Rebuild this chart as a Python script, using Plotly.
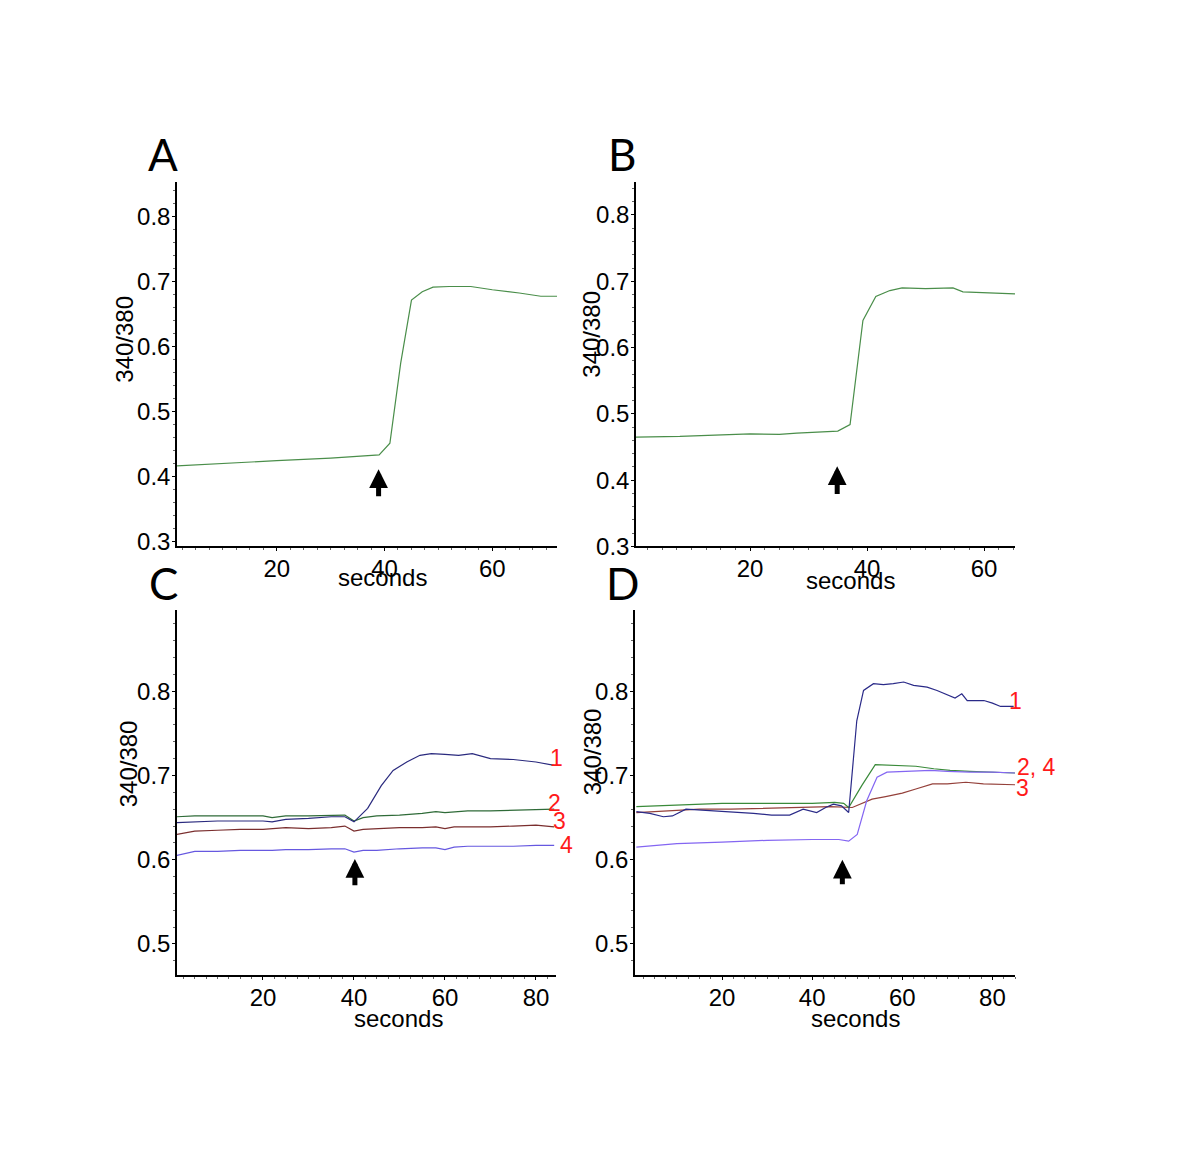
import plotly.graph_objects as go

W, H = 1200, 1150
# the page capture comes out about 1% shorter vertically than the figure;
# pixel targets below are measured on the reference, so stretch them a bit
K = 1.0105

# ---- data ----
t_a = [1.5, 10, 20, 30, 39, 41, 43, 45, 47, 49, 52, 56, 60, 65, 69, 72]
ratio_a = [0.417, 0.421, 0.425, 0.429, 0.434, 0.452, 0.575, 0.672, 0.685, 0.692,
           0.693, 0.693, 0.688, 0.683, 0.678, 0.678]

t_b = [0.5, 8, 14, 20, 25, 28, 35, 37.1, 39.3, 41.5, 43.9, 46, 50, 54.7, 56.4, 61, 65.3]
ratio_b = [0.465, 0.466, 0.468, 0.470, 0.469, 0.471, 0.474, 0.484, 0.641, 0.677,
           0.686, 0.690, 0.689, 0.690, 0.684, 0.683, 0.681]

t_c1 = [1, 5, 10, 15, 20, 22, 25, 30, 35, 38, 40, 43, 46, 48.6, 51.6, 54.5, 57, 60,
        63, 66, 70, 75, 80, 84]
ratio_c1 = [0.644, 0.645, 0.646, 0.646, 0.646, 0.645, 0.648, 0.649, 0.651, 0.651,
            0.645, 0.661, 0.688, 0.706, 0.716, 0.724, 0.726, 0.725, 0.724, 0.726,
            0.720, 0.719, 0.716, 0.712]
t_c = [1, 5, 10, 15, 20, 22, 25, 30, 35, 38, 40, 42, 45, 50, 55, 58, 60, 62, 65, 70,
       75, 80, 84]
ratio_c2 = [0.651, 0.652, 0.652, 0.652, 0.652, 0.650, 0.652, 0.652, 0.653, 0.653,
            0.646, 0.650, 0.652, 0.653, 0.655, 0.657, 0.656, 0.657, 0.658, 0.658,
            0.659, 0.660, 0.660]
ratio_c3 = [0.630, 0.634, 0.635, 0.636, 0.636, 0.637, 0.638, 0.637, 0.638, 0.640,
            0.634, 0.636, 0.637, 0.638, 0.638, 0.639, 0.637, 0.639, 0.639, 0.639,
            0.640, 0.641, 0.639]
ratio_c4 = [0.605, 0.610, 0.610, 0.611, 0.611, 0.611, 0.612, 0.612, 0.613, 0.613,
            0.609, 0.611, 0.611, 0.613, 0.614, 0.614, 0.612, 0.615, 0.616, 0.616,
            0.616, 0.617, 0.617]

t_d1 = [1, 4, 7, 9, 12, 15, 18, 21, 23, 27, 31, 35, 38, 41, 43, 44.7, 46.5, 48.1,
        49.9, 51.4, 53.6, 55.8, 58, 60.3, 62.5, 65.5, 67.7, 70.6, 71.7, 73.2, 74.4,
        78.1, 80, 81.8, 84.7]
ratio_d1 = [0.657, 0.655, 0.651, 0.652, 0.660, 0.659, 0.658, 0.657, 0.657, 0.655,
            0.653, 0.653, 0.660, 0.656, 0.662, 0.666, 0.664, 0.656, 0.765, 0.801,
            0.809, 0.808, 0.809, 0.811, 0.807, 0.805, 0.801, 0.795, 0.792, 0.797,
            0.789, 0.789, 0.786, 0.782, 0.782]
t_d2 = [1, 10, 20, 30, 40, 45, 47, 48.1, 51, 54, 58.8, 63, 67, 70.6, 75, 79.5, 85]
ratio_d2 = [0.663, 0.665, 0.667, 0.667, 0.667, 0.668, 0.667, 0.662, 0.688, 0.713,
            0.712, 0.711, 0.708, 0.706, 0.705, 0.704, 0.703]
t_d3 = [1, 7, 15, 22, 30, 37, 44, 48.9, 53.3, 56.3, 60, 63, 66.7, 70, 74.1, 78, 85]
ratio_d3 = [0.656, 0.658, 0.660, 0.660, 0.661, 0.662, 0.663, 0.662, 0.672, 0.675,
            0.679, 0.684, 0.690, 0.690, 0.692, 0.690, 0.689]
t_d4 = [1, 10, 20, 30, 40, 45.9, 48.1, 50, 52.1, 54.4, 56.6, 60, 66.3, 70, 75, 80, 85]
ratio_d4 = [0.615, 0.619, 0.621, 0.623, 0.624, 0.624, 0.622, 0.630, 0.670, 0.698,
            0.704, 0.705, 0.706, 0.705, 0.704, 0.704, 0.703]

# stimulus arrows (time, tip ratio, tail ratio)
arrow_a = (38.9, 0.412, 0.368)
arrow_b = (34.9, 0.421, 0.377)
arrow_c = (40.2, 0.601, 0.568)
arrow_d = (46.7, 0.600, 0.569)

yticks_top = [0.3, 0.4, 0.5, 0.6, 0.7, 0.8]
yticks_bot = [0.5, 0.6, 0.7, 0.8]
xticks_ab = [20, 40, 60]
xticks_cd = [20, 40, 60, 80]

trace_labels_c = ["1", "2", "3", "4"]
trace_labels_d = ["1", "2, 4", "3"]

FONT = "Liberation Sans, Arial, sans-serif"
GREEN = "#4a8e4a"


def px(x):
    return x / W


def py(y):
    return 1 - y * K / H


fig = go.Figure()

# panel geometry in pixels: (left, right, top, bottom)
panels = {
    "": (177, 557, 182, 547),
    "2": (636, 1015, 182, 547),
    "3": (177, 556, 611, 976),
    "4": (635, 1015, 611, 976),
}
ranges = {
    "": ([1.5, 72], [0.293, 0.854], xticks_ab, yticks_top),
    "2": ([0.5, 65.3], [0.3, 0.85], xticks_ab, yticks_top),
    "3": ([1.1, 84.4], [0.463, 0.896], xticks_cd, yticks_bot),
    "4": ([0.7, 85], [0.463, 0.896], xticks_cd, yticks_bot),
}

for k, (l, r, t, b) in panels.items():
    xr, yr, xt, yt = ranges[k]
    fig.update_layout({
        f"xaxis{k}": dict(
            domain=[px(l), px(r)], range=xr, anchor=f"y{k}",
            tickvals=xt, ticktext=[str(v) for v in xt],
            showline=True, linecolor="black", linewidth=1.5,
            ticks="outside", ticklen=3, tickcolor="black",
            minor=dict(dtick=2.5, tick0=0, ticks="outside", ticklen=2, tickcolor="#666"),
            showgrid=False, zeroline=False, ticklabelstandoff=-3,
            tickfont=dict(family=FONT, size=24, color="black"),
        ),
        f"yaxis{k}": dict(
            domain=[py(b), py(t)], range=yr, anchor=f"x{k}",
            tickvals=yt, ticktext=[f"{v:.1f}" for v in yt],
            showline=True, linecolor="black", linewidth=1.5,
            ticks="outside", ticklen=3, tickcolor="black",
            minor=dict(dtick=0.02, tick0=0, ticks="outside", ticklen=2, tickcolor="#666"),
            showgrid=False, zeroline=False, ticklabelstandoff=-3,
            tickfont=dict(family=FONT, size=24, color="black"),
        ),
    })


def line(x, y, color, xa, ya):
    fig.add_trace(go.Scatter(x=x, y=y, mode="lines", xaxis=xa, yaxis=ya,
                             line=dict(color=color, width=1.2), showlegend=False,
                             hoverinfo="skip"))


line(t_a, ratio_a, GREEN, "x", "y")
line(t_b, ratio_b, GREEN, "x2", "y2")

line(t_c, ratio_c2, "#2f6b38", "x3", "y3")
line(t_c, ratio_c3, "#7a2e2e", "x3", "y3")
line(t_c, ratio_c4, "#6658e0", "x3", "y3")
line(t_c1, ratio_c1, "#2a2a7e", "x3", "y3")

line(t_d3, ratio_d3, "#94403a", "x4", "y4")
line(t_d2, ratio_d2, "#3a8a3a", "x4", "y4")
line(t_d4, ratio_d4, "#8466f2", "x4", "y4")
line(t_d1, ratio_d1, "#2a2a88", "x4", "y4")

# arrows
for (xv, tip, tail), xa, ya in [(arrow_a, "x", "y"), (arrow_b, "x2", "y2"),
                                (arrow_c, "x3", "y3"), (arrow_d, "x4", "y4")]:
    fig.add_annotation(x=xv, y=tip, ax=xv, ay=tail, xref=xa, yref=ya,
                       axref=xa, ayref=ya, text="", showarrow=True,
                       arrowhead=2, arrowwidth=5, arrowsize=0.75, arrowcolor="black")

# numbered trace labels (they sit past the right end of the axes)
label_pos_c = [(556, 759), (554, 804), (559, 822), (566, 846)]
label_pos_d = [(1015, 702), (1036, 768), (1022, 789)]
for txt, (x, y) in list(zip(trace_labels_c, label_pos_c)) + list(zip(trace_labels_d, label_pos_d)):
    fig.add_annotation(x=px(x), y=py(y), xref="paper", yref="paper", text=txt,
                       showarrow=False, xanchor="center", yanchor="middle",
                       font=dict(family=FONT, size=23, color="#ff1a1a"))

# panel letters and axis titles (pixel positions)
for txt, x, y in [("A", 163, 154), ("B", 622, 154), ("C", 163, 584), ("D", 622, 584)]:
    fig.add_annotation(x=px(x), y=py(y), xref="paper", yref="paper", text=txt,
                       showarrow=False, xanchor="center", yanchor="middle",
                       font=dict(family="Lato, Open Sans, sans-serif", size=44, color="black"))

for x, y in [(125, 340), (592, 335), (128, 765), (592, 753)]:
    fig.add_annotation(x=px(x), y=py(y), xref="paper", yref="paper", text="340/380",
                       textangle=-90, showarrow=False, xanchor="center", yanchor="middle",
                       font=dict(family=FONT, size=24, color="black"))

for x, y in [(382, 578), (850, 581), (398, 1019), (855, 1019)]:
    fig.add_annotation(x=px(x), y=py(y), xref="paper", yref="paper", text="seconds",
                       showarrow=False, xanchor="center", yanchor="middle",
                       font=dict(family=FONT, size=24, color="black"))

fig.update_layout(
    width=W, height=H,
    margin=dict(l=0, r=0, t=0, b=0),
    paper_bgcolor="white", plot_bgcolor="white",
    showlegend=False,
)

fig.write_html("out.html", config={"displayModeBar": False},
               post_script="document.body.style.margin='0';")
